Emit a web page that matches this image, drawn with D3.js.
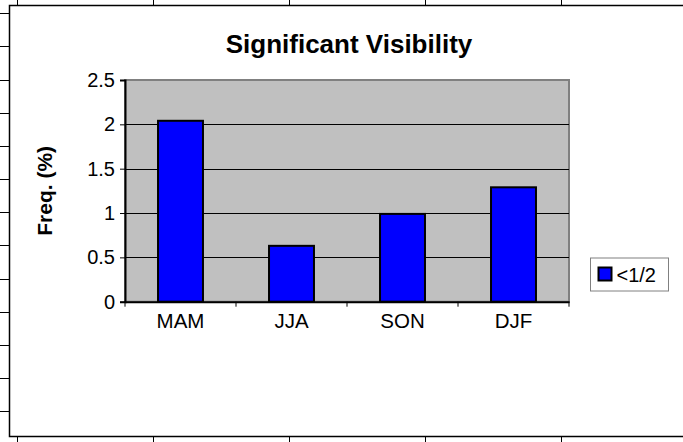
<!DOCTYPE html>
<meta charset="utf-8">
<head>
<style>
 body { margin: 0; background: #fff; }
 svg text { font-family: Arial, "Liberation Sans", sans-serif; fill: #000; }
 .title { font-weight: bold; font-size: 26px; }
 .ylabel { font-weight: bold; font-size: 21px; }
 .axis text { font-size: 20px; }
 .axis path, .axis line { stroke: #000; }
 .sheet line { stroke: #000; stroke-width: 1px; }
</style>
</head>
<body>
<svg width="683" height="442"></svg>
<script src="https://d3js.org/d3.v7.min.js"></script>
<script>
  // data
  var seasons = ['MAM', 'JJA', 'SON', 'DJF'];
  var freq = [2.04, 0.63, 0.99, 1.29];
  var yTicks = [0, 0.5, 1, 1.5, 2, 2.5];
  var seriesName = '<1/2';

  var svg = d3.select('svg');
  var width = +svg.attr('width');
  var height = +svg.attr('height');

  // spreadsheet grid peeking out around the chart object
  var sheet = svg.append('g').attr('class', 'sheet');
  var rows = d3.range(13.3, height, 33.17);
  var cols = d3.range(17.3, width, 136);
  sheet.selectAll('.row').data(rows).enter().append('line')
      .attr('x1', 0).attr('x2', 9).attr('y1', function(d) { return Math.round(d) + 0.5; })
      .attr('y2', function(d) { return Math.round(d) + 0.5; });
  sheet.selectAll('.coltop').data(cols).enter().append('line')
      .attr('y1', 0).attr('y2', 6).attr('x1', function(d) { return Math.round(d) + 0.5; })
      .attr('x2', function(d) { return Math.round(d) + 0.5; });
  sheet.selectAll('.colbot').data(cols).enter().append('line')
      .attr('y1', 437).attr('y2', height).attr('x1', function(d) { return Math.round(d) + 0.5; })
      .attr('x2', function(d) { return Math.round(d) + 0.5; });

  // chart area
  svg.append('rect')
      .attr('x', 9.5).attr('y', 5.5).attr('width', width).attr('height', 431)
      .attr('fill', '#fff').attr('stroke', '#000').attr('stroke-width', 1.5);

  var margin = { top: 80, left: 125, bottom: 442 - 301.7, right: 683 - 569 };
  var x = d3.scaleBand().domain(seasons)
      .range([margin.left, width - margin.right])
      .paddingInner(0.595).paddingOuter(0.2975);
  var xb = d3.scaleBand().domain(seasons).range(x.range());
  var y = d3.scaleLinear().domain([0, 2.5]).range([height - margin.bottom, margin.top]);

  // plot area
  svg.append('rect')
      .attr('x', margin.left).attr('y', margin.top)
      .attr('width', width - margin.right - margin.left)
      .attr('height', y(0) - margin.top)
      .attr('fill', '#c0c0c0').attr('stroke', '#808080').attr('stroke-width', 2);

  svg.append('g').selectAll('line').data(yTicks.filter(function(d) { return d > 0 && d < 2.5; }))
    .enter().append('line')
      .attr('x1', margin.left).attr('x2', width - margin.right)
      .attr('y1', function(d) { return Math.round(y(d)) + 0.5; })
      .attr('y2', function(d) { return Math.round(y(d)) + 0.5; })
      .attr('stroke', '#000');

  svg.append('g').selectAll('rect').data(freq).enter().append('rect')
      .attr('x', function(d, i) { return x(seasons[i]); })
      .attr('y', function(d) { return y(d); })
      .attr('width', x.bandwidth())
      .attr('height', function(d) { return y(0) - y(d); })
      .attr('fill', '#0000ff').attr('stroke', '#000').attr('stroke-width', 2);

  // axes
  var yAxis = svg.append('g').attr('class', 'axis')
      .attr('transform', 'translate(' + margin.left + ',0)')
      .call(d3.axisLeft(y).tickValues(yTicks).tickFormat(d3.format('')).tickSize(5).tickPadding(5));
  yAxis.select('.domain').attr('stroke', '#808080').attr('stroke-width', 2);

  var xAxis = svg.append('g').attr('class', 'axis')
      .attr('transform', 'translate(0,' + y(0) + ')')
      .call(d3.axisBottom(xb).tickSize(0).tickPadding(12));
  xAxis.select('.domain').attr('stroke', '#808080').attr('stroke-width', 2);
  xAxis.selectAll('text').style('font-size', '20.5px');
  // category boundary ticks
  xAxis.selectAll('.sep').data(seasons.concat(['end'])).enter().append('line')
      .attr('x1', function(d, i) { return i < seasons.length ? xb(d) : xb.range()[1]; })
      .attr('x2', function(d, i) { return i < seasons.length ? xb(d) : xb.range()[1]; })
      .attr('y1', 0).attr('y2', 5).attr('stroke', '#000');

  // titles
  svg.append('text').attr('class', 'title')
      .attr('x', (margin.left + width - margin.right) / 2 + 2).attr('y', 53)
      .attr('text-anchor', 'middle').text('Significant Visibility');
  svg.append('text').attr('class', 'ylabel')
      .attr('transform', 'translate(51.5,' + (y(0) + margin.top) / 2 + ') rotate(-90)')
      .attr('text-anchor', 'middle').text('Freq. (%)');

  // legend
  var lg = svg.append('g').attr('transform', 'translate(590.5,258)');
  lg.append('rect').attr('width', 78).attr('height', 33)
      .attr('fill', '#fff').attr('stroke', '#808080').attr('stroke-width', 1);
  lg.append('rect').attr('x', 8).attr('y', 9.5).attr('width', 13).attr('height', 13)
      .attr('fill', '#0000ff').attr('stroke', '#000').attr('stroke-width', 2);
  lg.append('text').attr('x', 26).attr('y', 24).style('font-size', '20px').text(seriesName);
</script>
</body>
